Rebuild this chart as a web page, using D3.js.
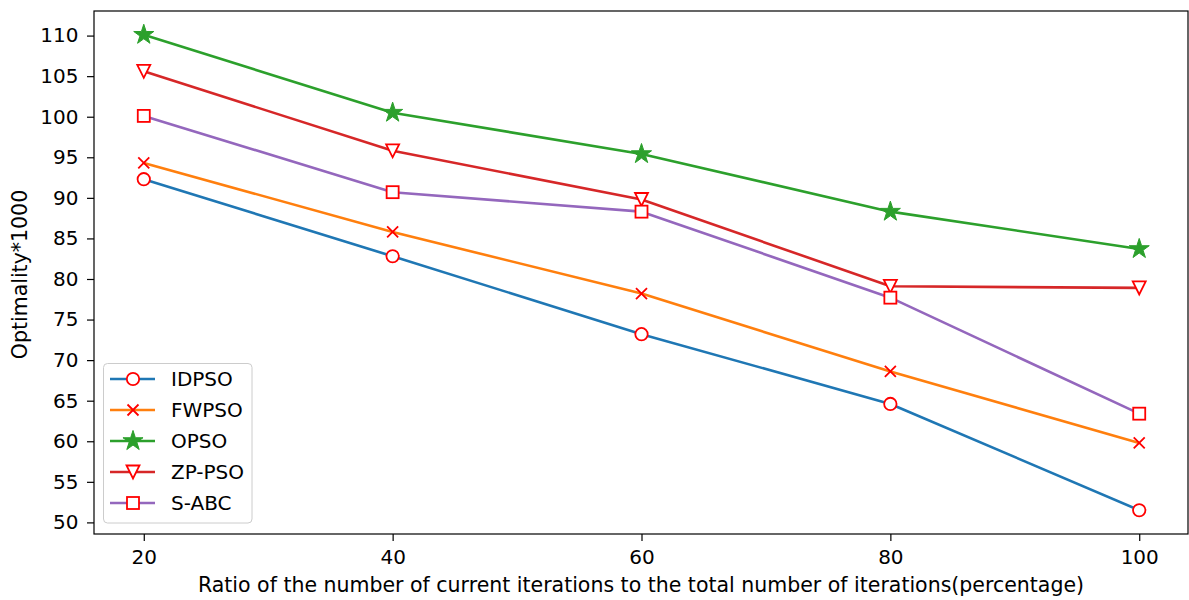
<!DOCTYPE html>
<html><head><meta charset="utf-8">
<script src="https://cdn.jsdelivr.net/npm/d3@7"></script>
<style>body{margin:0;background:#fff;} svg{display:block;font-family:"DejaVu Sans",sans-serif;}</style>
</head><body>
<script>
const xValues = [20, 40, 60, 80, 100];
const seriesNames = ["IDPSO", "FWPSO", "OPSO", "ZP-PSO", "S-ABC"];
const idpso = [92.3, 82.8, 73.2, 64.6, 51.5];
const fwpso = [94.3, 85.8, 78.2, 68.6, 59.8];
const opso = [110.1, 100.5, 95.4, 88.3, 83.7];
const zppso = [105.6, 95.8, 89.8, 79.1, 78.9];
const sabc = [100.1, 90.7, 88.3, 77.7, 63.4];
const yTicks = [50, 55, 60, 65, 70, 75, 80, 85, 90, 95, 100, 105, 110];
const xTicks = [20, 40, 60, 80, 100];
const colors = ["#1f77b4", "#ff7f0e", "#2ca02c", "#d62728", "#9467bd"];
const markers = ["circle", "x", "star", "tri", "square"];

const W = 1189, H = 600;
const m = {l: 94, r: 1188, t: 11, b: 534};
const svg = d3.select("body").append("svg").attr("width", W).attr("height", H);

const allVals = [idpso, fwpso, opso, zppso, sabc].flat();
const ymin = d3.min(allVals), ymax = d3.max(allVals), yr = ymax - ymin;
const x = d3.scaleLinear().domain([16, 104]).range([m.l, m.r + 1]);
const y = d3.scaleLinear().domain([ymin - 0.05 * yr, ymax + 0.05 * yr]).range([m.b, m.t]);

const data = [idpso, fwpso, opso, zppso, sabc];

const gx = svg.append("g").attr("transform", `translate(0,${m.b})`)
  .call(d3.axisBottom(x).tickValues(xTicks).tickSize(7).tickPadding(9));
const gy = svg.append("g").attr("transform", `translate(${m.l},0)`)
  .call(d3.axisLeft(y).tickValues(yTicks).tickSize(7).tickPadding(8.5));
[gx, gy].forEach(g => {
  g.select(".domain").remove();
  g.selectAll("text").attr("font-size", 20).attr("fill", "#000").attr("font-family", "DejaVu Sans");
  g.selectAll("line").attr("stroke", "#000").attr("stroke-width", 1.2);
});

const line = d3.line().x((d, i) => x(xValues[i])).y(d => y(d));

function drawMarker(g, type, cx, cy, color) {
  if (type === "circle") {
    g.append("circle").attr("cx", cx).attr("cy", cy).attr("r", 6.2)
      .attr("fill", "#fff").attr("stroke", "red").attr("stroke-width", 1.8);
  } else if (type === "x") {
    const s = 5.5;
    g.append("path").attr("d", `M${cx - s},${cy - s}L${cx + s},${cy + s}M${cx - s},${cy + s}L${cx + s},${cy - s}`)
      .attr("stroke", "red").attr("stroke-width", 1.8).attr("fill", "none");
  } else if (type === "star") {
    g.append("path").attr("transform", `translate(${cx},${cy})`)
      .attr("d", d3.symbol(d3.symbolStar, 125)())
      .attr("fill", color).attr("stroke", color).attr("stroke-width", 1);
  } else if (type === "tri") {
    const s = 6.5;
    g.append("path").attr("d", `M${cx - s},${cy - s}L${cx + s},${cy - s}L${cx},${cy + s}Z`)
      .attr("fill", "#fff").attr("stroke", "red").attr("stroke-width", 1.8);
  } else if (type === "square") {
    const s = 6;
    g.append("rect").attr("x", cx - s).attr("y", cy - s).attr("width", 2 * s).attr("height", 2 * s)
      .attr("fill", "#fff").attr("stroke", "red").attr("stroke-width", 1.8);
  }
}

data.forEach((vals, k) => {
  const g = svg.append("g");
  g.append("path").datum(vals).attr("d", line).attr("fill", "none")
    .attr("stroke", colors[k]).attr("stroke-width", 2.6).attr("stroke-linejoin", "round");
  vals.forEach((v, i) => drawMarker(g, markers[k], x(xValues[i]), y(v), colors[k]));
});

// frame
svg.append("rect").attr("x", m.l).attr("y", m.t).attr("width", m.r - m.l).attr("height", m.b - m.t)
  .attr("fill", "none").attr("stroke", "#000").attr("stroke-width", 1.2);

// labels
svg.append("text").attr("x", (m.l + m.r) / 2).attr("y", 592).attr("text-anchor", "middle")
  .attr("font-size", 20.5).text("Ratio of the number of current iterations to the total number of iterations(percentage)");
svg.append("text").attr("transform", `translate(27,${(m.t + m.b) / 2 + 2}) rotate(-90)`).attr("text-anchor", "middle")
  .attr("font-size", 20.5).text("Optimality*1000");

// legend
const lg = svg.append("g");
lg.append("rect").attr("x", 103.5).attr("y", 363.5).attr("width", 148.5).attr("height", 159.5).attr("rx", 4)
  .attr("fill", "#fff").attr("fill-opacity", 0.8).attr("stroke", "#ccc").attr("stroke-width", 1);
seriesNames.forEach((n, k) => {
  const yy = 379 + k * 31;
  lg.append("line").attr("x1", 110).attr("x2", 155).attr("y1", yy).attr("y2", yy)
    .attr("stroke", colors[k]).attr("stroke-width", 2.6);
  drawMarker(lg, markers[k], 133, yy, colors[k]);
  lg.append("text").attr("x", 171).attr("y", yy + 7.3).attr("font-size", 20).text(n);
});
</script>
</body></html>
